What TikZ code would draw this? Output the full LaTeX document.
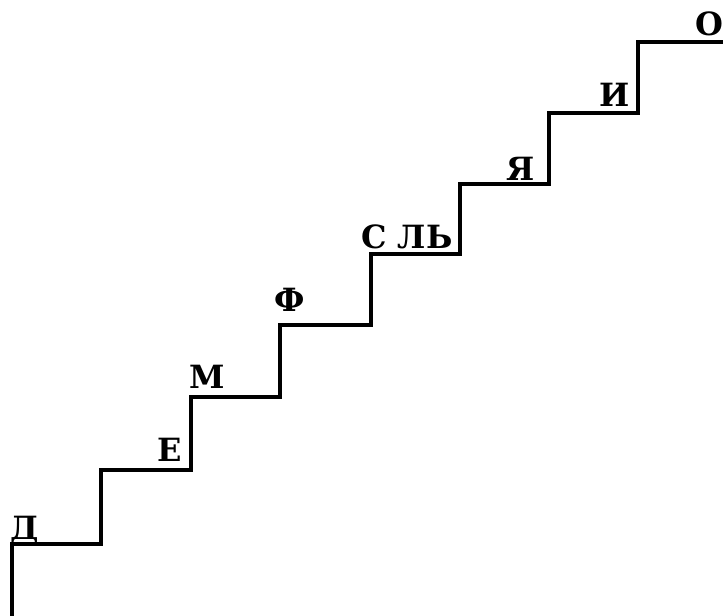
\documentclass[tikz,border=0pt]{standalone}
\usepackage{fontspec}
\setmainfont{DejaVu Serif}
\usepackage{tikz}
\tikzset{
  stair/.style={draw, line width=2.3pt, line join=miter},
  letter/.style={anchor=base, inner sep=0pt, font=\bfseries\fontsize{24}{28}\selectfont}
}
\begin{document}
\begin{tikzpicture}[x=0.75pt,y=0.75pt]
  \useasboundingbox (0,0) rectangle (723,616);
  % staircase
  \coordinate (s0) at (12,0);
  \coordinate (top) at (723,574);
  \draw[stair] (s0) -- (12,72) -- (101,72) -- (101,146) -- (191,146) -- (191,219)
    -- (280,219) -- (280,291) -- (371,291) -- (371,362) -- (460,362) -- (460,432)
    -- (549,432) -- (549,503) -- (638,503) -- (638,574) -- (top);
  % letters on the steps
  \node[letter] (d) at (25,76) {Д};
  \node[letter] (e) at (170,154) {Е};
  \node[letter] (m) at (207,227) {М};
  \node[letter] (f) at (290,304) {Ф};
  \node[letter] (sl) at (407,367) {С ЛЬ};
  \node[letter] (ya) at (521,435) {Я};
  \node[letter] (i) at (615,509) {И};
  \node[letter] (o) at (709,580) {О};
\end{tikzpicture}
\end{document}
